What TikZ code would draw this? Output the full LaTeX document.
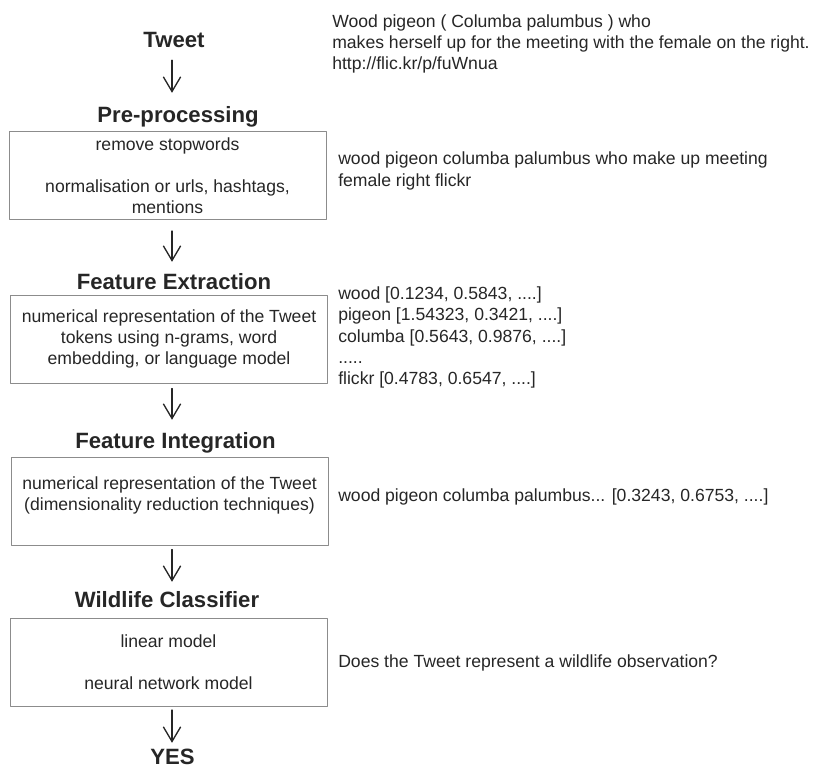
\documentclass[tikz,border=0pt]{standalone}
\usepackage{fontspec}
\setmainfont{Liberation Sans}
\usetikzlibrary{arrows.meta}

\definecolor{inkgray}{HTML}{262626}
\definecolor{boxgray}{HTML}{8C8C8C}

\begin{document}
\begin{tikzpicture}[x=0.75pt, y=-0.75pt, line cap=round, line join=round,
    >={Straight Barb[length=11pt,width=13pt]}]

  % ===== Styles =====
  \tikzset{
    heading/.style={font=\fontsize{16.6pt}{20pt}\selectfont\bfseries, text=inkgray,
      inner sep=0pt, text height=11.9pt, text depth=0pt},
    stagebox/.style={draw=boxgray, line width=0.75pt, minimum width=237.75pt,
      minimum height=66pt, inner sep=0pt, align=center, text=inkgray,
      font=\fontsize{13.2pt}{15.75pt}\selectfont},
    sample/.style={anchor=west, inner sep=0pt, align=left, text=inkgray,
      font=\fontsize{13.2pt}{16pt}\selectfont},
    flow/.style={->, draw=inkgray, line width=1pt}
  }

  % ===== Canvas =====
  \useasboundingbox (0,0) rectangle (814,771);
  \coordinate (spine) at (172,0);

  % ===== Stage headings =====
  \node[heading] (tweet) at (174,40)    {Tweet};
  \node[heading] (pre)   at (178,115)   {Pre-processing};
  \node[heading] (fe)    at (174,282)   {Feature Extraction};
  \node[heading] (fi)    at (175.5,440.5) {Feature Integration};
  \node[heading] (wc)    at (167,600)   {Wildlife Classifier};
  \node[heading] (yes)   at (172.5,757) {YES};

  % ===== Stage boxes =====
  \node[stagebox] (box1) at (167.5,175.5)
    {remove stopwords\\~\\normalisation or urls, hashtags,\\mentions};
  \node[stagebox] (box2) at (169,339)
    {numerical representation of the Tweet\\tokens using n-grams, word\\embedding, or language model};
  \node[stagebox] (box3) at (169.5,501)
    {numerical representation of the Tweet\\(dimensionality reduction techniques)\\[-4pt]~};
  \node[stagebox] (box4) at (168.5,662.5)
    {linear model\\~\\neural network model};

  % ===== Example output of each stage =====
  \node[sample] (tweettxt) at (332,44)
    {Wood pigeon ( Columba palumbus ) who\\makes herself up for the meeting with the female on the right.\\http://flic.kr/p/fuWnua};
  \node[sample] (pretxt) at (338,171)
    {wood pigeon columba palumbus who make up meeting\\female right flickr};
  \node[sample] (fetxt) at (338,337.5)
    {wood [0.1234, 0.5843, ....]\\pigeon [1.54323, 0.3421, ....]\\columba [0.5643, 0.9876, ....]\\.....\\flickr [0.4783, 0.6547, ....]};
  \node[sample] (fitxt) at (338,497)
    {wood pigeon columba palumbus... [0.3243, 0.6753, ....]};
  \node[sample] (wctxt) at (338,663)
    {Does the Tweet represent a wildlife observation?};

  % ===== Flow arrows =====
  \draw[flow, shorten <=9pt, shorten >=10.5pt] (tweet.south -| spine) -- (pre.north -| spine);
  \draw[flow, shorten <=8.25pt, shorten >=9pt] (box1.south -| spine) -- (fe.north -| spine);
  \draw[flow, shorten <=3.75pt, shorten >=9.4pt] (box2.south -| spine) -- (fi.north -| spine);
  \draw[flow, shorten <=3pt, shorten >=7.5pt] (box3.south -| spine) -- (wc.north -| spine);
  \draw[flow, shorten <=2.25pt, shorten >=4.5pt] (box4.south -| spine) -- (yes.north -| spine);

\end{tikzpicture}
\end{document}
